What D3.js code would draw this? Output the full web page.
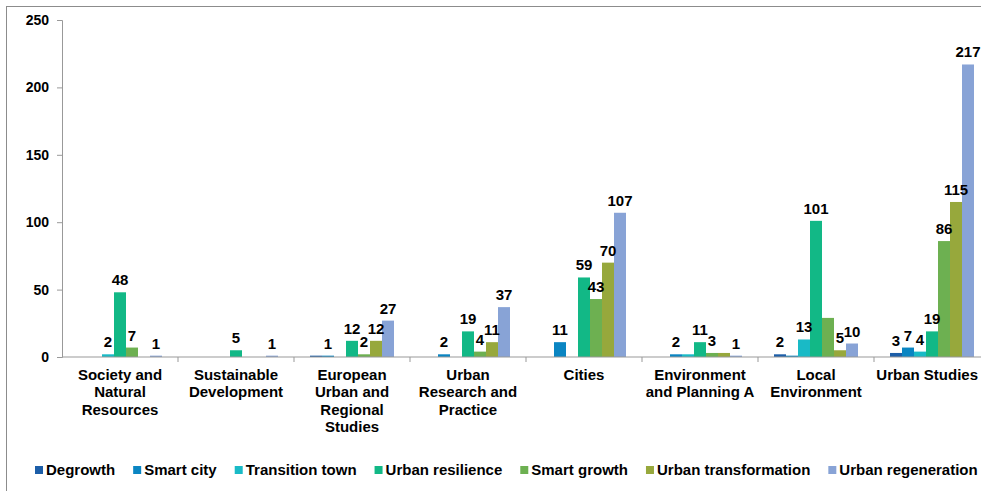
<!DOCTYPE html>
<html><head><meta charset="utf-8">
<script src="https://cdn.jsdelivr.net/npm/d3@7"></script>
<style>body{margin:0;background:#fff;}svg{display:block;font-family:"Liberation Sans",Arial,sans-serif;}</style>
</head><body><svg id="c" width="981" height="491"></svg>
<script>
const categories = ["Society and Natural Resources","Sustainable Development","European Urban and Regional Studies","Urban Research and Practice","Cities","Environment and Planning A","Local Environment","Urban Studies"];
const categoryLines = [["Society and","Natural","Resources"],["Sustainable","Development"],["European","Urban and","Regional","Studies"],["Urban","Research and","Practice"],["Cities"],["Environment","and Planning A"],["Local","Environment"],["Urban Studies"]];
const seriesNames = ["Degrowth","Smart city","Transition town","Urban resilience","Smart growth","Urban transformation","Urban regeneration"];
const seriesColors = ["#1C5EA8","#0A85C2","#19BAC6","#12B886","#6DB051","#97A83C","#88A3D6"];
const degrowth           = [0,0,1,0,0,0,2,3];
const smartCity          = [0,0,1,2,11,2,1,7];
const transitionTown     = [2,0,0,0,0,2,13,4];
const urbanResilience    = [48,5,12,19,59,11,101,19];
const smartGrowth        = [7,0,2,4,43,3,29,86];
const urbanTransformation= [0,0,12,11,70,3,5,115];
const urbanRegeneration  = [1,1,27,37,107,1,10,217];
const seriesValues = [degrowth,smartCity,transitionTown,urbanResilience,smartGrowth,urbanTransformation,urbanRegeneration];
// labels omitted in the original chart: [categoryIndex, seriesIndex]
const hiddenLabels = [[2,0],[5,2],[5,5],[6,1],[6,4]];
const yTicks = [0,50,100,150,200,250];

const W = 981;
const svg = d3.select("#c");
svg.append("rect").attr("x",6.5).attr("y",6.5).attr("width",1000).attr("height",500)
  .attr("fill","none").attr("stroke","#8c8c8c").attr("stroke-width",1);

const pL=62, pT=20, pB=357, pR=990;
const x0 = d3.scaleBand().domain(categories).range([pL,pR]).paddingInner(0).paddingOuter(0);
const x1 = d3.scaleBand().domain(seriesNames).range([0,x0.bandwidth()]).paddingOuter(16/12).paddingInner(0);
const y = d3.scaleLinear().domain([0,250]).range([pB,pT]);

// y axis
const ya = svg.append("g").attr("transform",`translate(${pL},0)`)
  .call(d3.axisLeft(y).tickValues(yTicks).tickSize(5).tickPadding(8));
ya.select(".domain").attr("stroke","#999");
ya.selectAll(".tick line").attr("stroke","#999");
ya.selectAll(".tick text").attr("font-size","14px").attr("font-weight","bold").attr("fill","#000")
  .attr("font-family","Liberation Sans, Arial, sans-serif");

// bars
const hidden = new Set(hiddenLabels.map(d=>d[0]+"_"+d[1]));
const groups = svg.append("g").selectAll("g").data(categories).join("g")
  .attr("transform",d=>`translate(${x0(d)},0)`);
groups.each(function(cat,ci){
  const g = d3.select(this);
  seriesNames.forEach((s,si)=>{
    const v = seriesValues[si][ci];
    if(!v) return;
    g.append("rect").attr("x",x1(s)).attr("y",y(v)).attr("width",x1.bandwidth()).attr("height",pB-y(v))
      .attr("fill",seriesColors[si]);
  });
});
// x axis
const xa = svg.append("g").attr("transform",`translate(0,${pB})`);
xa.append("line").attr("x1",pL).attr("x2",pR).attr("y1",0).attr("y2",0).attr("stroke","#999");
categories.forEach((c,i)=>{
  xa.append("line").attr("x1",x0(c)+x0.bandwidth()).attr("x2",x0(c)+x0.bandwidth()).attr("y1",0).attr("y2",5).attr("stroke","#999");
  const t = xa.append("text").attr("text-anchor","middle").attr("font-size","15px").attr("font-weight","bold")
    .attr("fill","#000").attr("y",23);
  let cx = x0(c)+x0.bandwidth()/2;
  const spans = categoryLines[i].map((ln,k)=>t.append("tspan").attr("x",cx).attr("dy",k?17.4:0).text(ln));
  const maxW = d3.max(spans, s=>s.node().getComputedTextLength());
  if (cx + maxW/2 > W - 3) { cx = W - 3 - maxW/2; spans.forEach(s=>s.attr("x",cx)); }
});
// data labels
groups.each(function(cat,ci){
  const g = d3.select(this);
  seriesNames.forEach((s,si)=>{
    const v = seriesValues[si][ci];
    if(!v || hidden.has(ci+"_"+si)) return;
    g.append("text").attr("x",x1(s)+x1.bandwidth()/2).attr("y",y(v)-7).attr("text-anchor","middle")
      .attr("font-size","15px").attr("font-weight","bold").attr("fill","#000").text(v);
  });
});
// legend
const lg = svg.append("g").attr("transform","translate(35,470)");
let lx=0;
seriesNames.forEach((s,i)=>{
  const it = lg.append("g").attr("transform",`translate(${lx},0)`);
  it.append("rect").attr("x",0).attr("y",-4).attr("width",8).attr("height",8).attr("fill",seriesColors[i]);
  const t = it.append("text").attr("x",11).attr("y",5).attr("font-size","15px").attr("font-weight","bold").attr("fill","#000").text(s);
  lx += 11 + t.node().getComputedTextLength() + 18;
});
</script></body></html>
